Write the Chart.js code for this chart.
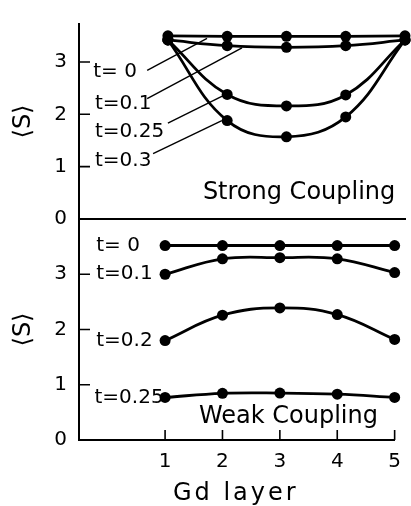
<!DOCTYPE html>
<html>
<head>
<meta charset="utf-8">
<script src="https://cdn.jsdelivr.net/npm/chart.js@4/dist/chart.umd.min.js"></script>
<style>
  html, body { margin: 0; padding: 0; background: #fff; }
  .wrap { position: relative; width: 411px; height: 506px; background: #fff; }
  canvas { position: absolute; left: 0; top: 0; }
</style>
</head>
<body>
<div class="wrap">
  <canvas id="strong" width="411" height="506"></canvas>
  <canvas id="weak" width="411" height="506"></canvas>
</div>
<script>
// ---------------- data ----------------
const layers = [1, 2, 3, 4, 5];
const strongT0   = [3.50, 3.49, 3.49, 3.49, 3.50];
const strongT01  = [3.42, 3.31, 3.28, 3.31, 3.42];
const strongT025 = [3.42, 2.38, 2.16, 2.37, 3.42];
const strongT03  = [3.42, 1.88, 1.57, 1.95, 3.42];
const weakT0   = [3.52, 3.52, 3.52, 3.52, 3.52];
const weakT01  = [3.00, 3.28, 3.30, 3.28, 3.03];
const weakT02  = [1.80, 2.26, 2.39, 2.27, 1.82];
const weakT025 = [0.77, 0.845, 0.85, 0.83, 0.77];
const strongLabels = ['t= 0', 't=0.1', 't=0.25', 't=0.3'];
const weakLabels   = ['t= 0', 't=0.1', 't=0.2', 't=0.25'];
const yTickValues = [0, 1, 2, 3];
const xTickValues = [1, 2, 3, 4, 5];
const yAxisTitle = '\u27E8S\u27E9';
const xAxisTitle = 'Gd layer';

// ---------------- styling / layout ----------------
const FONT = "'DejaVu Sans', sans-serif";
Chart.defaults.font.family = FONT;
Chart.defaults.color = '#000';

const toPts = arr => layers.map((x, i) => ({ x: x, y: arr[i] }));
const series = (arr) => ({
  data: toPts(arr),
  borderColor: '#000',
  backgroundColor: '#000',
  borderWidth: 2.8,
  pointRadius: 5.5,
  pointBorderWidth: 0,
  pointBackgroundColor: '#000',
  tension: 0.4,
  clip: false
});

// annotation placement (data units of each panel)
const strongNotes = [
  { lx: -0.26, ly: 2.82, from: [0.65, 2.84], to: [1.66, 3.45] },
  { lx: -0.23, ly: 2.21, from: [0.65, 2.30], to: [2.25, 3.27] },
  { lx: -0.23, ly: 1.66, from: [1.00, 1.83], to: [1.96, 2.37] },
  { lx: -0.23, ly: 1.12, from: [0.75, 1.25], to: [1.91, 1.88] }
];
const weakNoteX = [-0.20, -0.20, -0.20, -0.23];
const weakSeries = [weakT0, weakT01, weakT02, weakT025];

function yScaleCfg(max) {
  return {
    type: 'linear', min: 0, max: max,
    afterBuildTicks: s => { s.ticks = yTickValues.map(v => ({ value: v })); },
    ticks: { padding: 12, font: { size: 20 }, color: '#000' },
    grid: { display: false, drawTicks: false },
    border: { display: true, color: '#000', width: 2 },
    title: { display: true, text: yAxisTitle, color: '#000',
             font: { size: 24, lineHeight: 1.2 }, padding: { top: 9, bottom: 0 } },
    afterFit: s => { s.width = 79; }
  };
}

function drawTicksInward(chart, withX) {
  const { ctx, chartArea } = chart;
  const ys = chart.scales.y, xs = chart.scales.x;
  ctx.save();
  ctx.strokeStyle = '#000';
  ctx.lineWidth = 1.6;
  ctx.beginPath();
  yTickValues.forEach(v => {
    if (v === 0) return;
    const py = ys.getPixelForValue(v);
    ctx.moveTo(chartArea.left, py);
    ctx.lineTo(chartArea.left + 11, py);
  });
  if (withX) {
    xTickValues.forEach(v => {
      const px = xs.getPixelForValue(v);
      ctx.moveTo(px, chartArea.bottom);
      ctx.lineTo(px, chartArea.bottom - 10);
    });
  }
  ctx.stroke();
  ctx.restore();
}

const strongPlugin = {
  id: 'strongNotes',
  afterDraw(chart) {
    const { ctx } = chart;
    const xs = chart.scales.x, ys = chart.scales.y;
    drawTicksInward(chart, false);
    ctx.save();
    ctx.fillStyle = '#000';
    ctx.strokeStyle = '#000';
    ctx.font = '20px ' + FONT;
    ctx.textAlign = 'left';
    ctx.textBaseline = 'middle';
    strongNotes.forEach((n, i) => {
      ctx.fillText(strongLabels[i], xs.getPixelForValue(n.lx), ys.getPixelForValue(n.ly));
      ctx.lineWidth = 1.4;
      ctx.beginPath();
      ctx.moveTo(xs.getPixelForValue(n.from[0]), ys.getPixelForValue(n.from[1]));
      ctx.lineTo(xs.getPixelForValue(n.to[0]), ys.getPixelForValue(n.to[1]));
      ctx.stroke();
    });
    ctx.font = '24px ' + FONT;
    ctx.textBaseline = 'alphabetic';
    ctx.fillText('Strong Coupling', xs.getPixelForValue(1.59), ys.getPixelForValue(0.38));
    ctx.restore();
  }
};

const weakPlugin = {
  id: 'weakNotes',
  afterLayout(chart) {
    const sc = chart.scales.x;
    if (sc && !sc._spaced) {
      const orig = sc.drawTitle;
      sc.drawTitle = function () {
        const c = this.ctx;
        c.save();
        c.letterSpacing = '3px';
        c.translate(-1, 0);
        orig.call(this);
        c.restore();
      };
      sc._spaced = true;
    }
  },
  afterDraw(chart) {
    const { ctx } = chart;
    const xs = chart.scales.x, ys = chart.scales.y;
    drawTicksInward(chart, true);
    ctx.save();
    ctx.fillStyle = '#000';
    ctx.font = '20px ' + FONT;
    ctx.textAlign = 'left';
    ctx.textBaseline = 'middle';
    weakSeries.forEach((arr, i) => {
      ctx.fillText(weakLabels[i], xs.getPixelForValue(weakNoteX[i]), ys.getPixelForValue(arr[0]));
    });
    ctx.font = '24px ' + FONT;
    ctx.textBaseline = 'alphabetic';
    ctx.fillText('Weak Coupling', xs.getPixelForValue(1.59), ys.getPixelForValue(0.31));
    ctx.restore();
  }
};

new Chart(document.getElementById('strong'), {
  type: 'line',
  data: { datasets: [series(strongT0), series(strongT01), series(strongT025), series(strongT03)] },
  options: {
    responsive: false, animation: false, devicePixelRatio: 1, events: [],
    layout: { padding: { top: 13, right: 6, bottom: 287, left: 0 } },
    plugins: { legend: { display: false }, tooltip: { enabled: false } },
    scales: {
      x: {
        type: 'linear', min: -0.5, max: 5,
        ticks: { display: false },
        grid: { display: false, drawTicks: false },
        border: { display: true, color: '#000', width: 2 },
        afterFit: s => { s.height = 0; }
      },
      y: yScaleCfg(3.725)
    }
  },
  plugins: [strongPlugin]
});

new Chart(document.getElementById('weak'), {
  type: 'line',
  data: { datasets: [series(weakT0), series(weakT01), series(weakT02), series(weakT025)] },
  options: {
    responsive: false, animation: false, devicePixelRatio: 1, events: [],
    layout: { padding: { top: 219, right: 6, bottom: 0, left: 0 } },
    plugins: { legend: { display: false }, tooltip: { enabled: false } },
    scales: {
      x: {
        type: 'linear', min: -0.5, max: 5,
        afterBuildTicks: s => { s.ticks = xTickValues.map(v => ({ value: v })); },
        ticks: { padding: 10, font: { size: 20 }, color: '#000' },
        grid: { display: false, drawTicks: false },
        border: { display: true, color: '#000', width: 2 },
        title: { display: true, text: xAxisTitle, color: '#000',
                 font: { size: 24, lineHeight: 1 }, padding: { top: 0, bottom: 0 } },
        afterFit: s => { s.height = 66; }
      },
      y: yScaleCfg(4)
    }
  },
  plugins: [weakPlugin]
});
</script>
</body>
</html>
